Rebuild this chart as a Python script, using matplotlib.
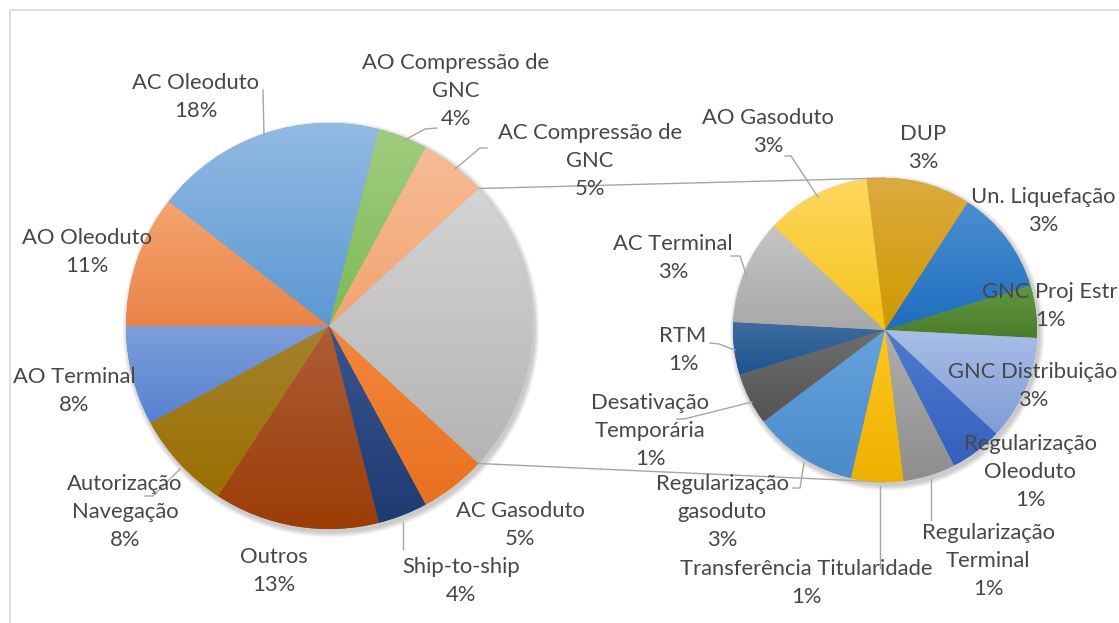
import numpy as np
import matplotlib
matplotlib.use("Agg")
import matplotlib.pyplot as plt
from matplotlib.patches import Rectangle, Circle

# ---------------- data ----------------
main_labels = ["AC Gasoduto", "Ship-to-ship", "Outros", "Autorização Navegação",
               "AO Terminal", "AO Oleoduto", "AC Oleoduto",
               "AO Compressão de GNC", "AC Compressão de GNC"]
main_values = [4, 3, 10, 6, 6, 8, 14, 3, 4]

sec_labels = ["DUP", "Un. Liquefação", "GNC Proj Estr", "GNC Distribuição",
              "Regularização Oleoduto", "Regularização Terminal",
              "Transferência Titularidade", "Regularização gasoduto",
              "Desativação Temporária", "RTM", "AC Terminal", "AO Gasoduto"]
sec_values = [2, 2, 1, 2, 1, 1, 1, 2, 1, 1, 2, 2]

# ---------------- styles ----------------
W, H = 1119, 623
TXT = "#474747"
FONT = ["Lato", "DejaVu Sans"]
FS = 15.8
LS = 1.5

other_color = ("#D4D4D4", "#B4B4B4")
main_colors = [("#F4873C", "#E8711F"), ("#385590", "#1E3B72"), ("#AE5C38", "#9C3D06"),
               ("#A6812E", "#9A7000"), ("#7E9EDA", "#5582D0"), ("#F5A46E", "#E98449"),
               ("#92BAE3", "#5C98D2"), ("#A0CD7E", "#7DB955"), ("#F7BC97", "#F2A470")]
sec_colors = [("#DCAA40", "#CF9900"), ("#4C8DD2", "#1E6EBE"), ("#629744", "#4A7D2A"),
              ("#A9BEE7", "#7E9CD6"), ("#4F7BCD", "#3461BE"), ("#AEAEAE", "#8E8E8E"),
              ("#FFC81E", "#ECB000"), ("#66A3DD", "#4A8BCB"), ("#6E6E6E", "#545454"),
              ("#3F6C9E", "#1E548F"), ("#C6C6C6", "#A8A8A8"), ("#FED75E", "#F4C419")]

wrap = {"AO Compressão de GNC": "AO Compressão de\nGNC",
        "AC Compressão de GNC": "AC Compressão de\nGNC",
        "Autorização Navegação": "Autorização\nNavegação",
        "Desativação Temporária": "Desativação\nTemporária",
        "Regularização gasoduto": "Regularização\ngasoduto",
        "Regularização Oleoduto": "Regularização\nOleoduto",
        "Regularização Terminal": "Regularização\nTerminal"}

# layout (pixel coordinates, y downward)
MAIN_C, MAIN_R = (329, 326), 203
SEC_C, SEC_R = (885, 330), 152

main_label_pos = [(520, 525), (461, 581), (274, 571), (125, 512), (74, 391),
                  (87, 252), (196, 97), (456, 91), (590, 161)]
sec_label_pos = [(923, 148), (1043, 211), (1050, 306), (1033, 386), (1030, 472),
                 (988, 561), (806, 583), (722, 512), (650, 431), (683, 350),
                 (673, 258), (768, 132)]
leaders = [
    [(263, 90), (264, 136)],
    [(437, 128), (425, 129), (403, 141)],
    [(487, 148), (480, 148), (455, 169)],
    [(403, 522), (403, 549)],
    [(180, 469), (153, 496), (145, 496)],
    [(785, 156), (791, 156), (818, 197)],
    [(731, 256), (740, 256), (747, 277)],
    [(710, 343), (719, 344), (735, 350)],
    [(677, 419), (684, 419), (752, 402)],
    [(793, 488), (800, 488), (804, 463)],
    [(880, 486), (880, 568)],
    [(931, 479), (931, 520)],
]


def P(x, y):
    return (x, H - y)


fig = plt.figure(figsize=(W / 100, H / 100), dpi=100)
ax = fig.add_axes([0, 0, 1, 1])


def soft_shadow(center, r, dx=2, dy=3):
    cx, cy = P(*center)
    for k in range(6, 0, -1):
        ax.add_patch(Circle((cx + dx, cy - dy), r + k * 0.9, facecolor="#000000",
                            edgecolor="none", alpha=0.035, zorder=1))


def gradient_fill(wedges, colors):
    for w, (c1, c2) in zip(wedges, colors):
        ext = w.get_path().get_extents()
        a = np.array(matplotlib.colors.to_rgb(c1))
        b = np.array(matplotlib.colors.to_rgb(c2))
        t = np.linspace(0, 1, 64)[:, None]
        img = (a * (1 - t) + b * t)[:, None, :]
        im = ax.imshow(img, extent=(ext.x0, ext.x1, ext.y0, ext.y1), origin="upper",
                       aspect="auto", interpolation="bilinear", zorder=3)
        im.set_clip_path(w)
        w.set_facecolor(c2)
        w.set_edgecolor("none")


total = sum(main_values) + sum(sec_values)
other = sum(sec_values)

# connector lines
mc = P(*MAIN_C)
sc = P(*SEC_C)
half = np.deg2rad(other / total * 180.0)
for s in (1, -1):
    x0 = mc[0] + MAIN_R * np.cos(half)
    y0 = mc[1] + s * MAIN_R * np.sin(half)
    ax.plot([x0, sc[0]], [y0, sc[1] + s * SEC_R], color="#A6A6A6", lw=1.0, zorder=2)

soft_shadow(MAIN_C, MAIN_R)
soft_shadow(SEC_C, SEC_R)

w_main, _ = ax.pie([other] + main_values, center=mc, radius=MAIN_R,
                   startangle=other / total * 180.0, counterclock=False,
                   wedgeprops=dict(linewidth=0, zorder=2), frame=True)
gradient_fill(w_main, [other_color] + main_colors)

w_sec, _ = ax.pie(sec_values, center=sc, radius=SEC_R, startangle=97,
                  counterclock=False, wedgeprops=dict(linewidth=0, zorder=2), frame=True)
gradient_fill(w_sec, sec_colors)

# leader lines
for pts in leaders:
    xs, ys = zip(*[P(*p) for p in pts])
    ax.plot(xs, ys, color="#A6A6A6", lw=1.0, zorder=4)


def pct(v):
    return int(v / total * 100 + 0.5)


for name, v, pos in zip(main_labels, main_values, main_label_pos):
    ax.text(*P(*pos), f"{wrap.get(name, name)}\n{pct(v)}%", ha="center", va="center",
            fontsize=FS, color=TXT, family=FONT, linespacing=LS, zorder=6)
for name, v, pos in zip(sec_labels, sec_values, sec_label_pos):
    ax.text(*P(*pos), f"{wrap.get(name, name)}\n{pct(v)}%", ha="center", va="center",
            fontsize=FS, color=TXT, family=FONT, linespacing=LS, zorder=6)

# chart area border
ax.add_patch(Rectangle(P(9.5, 640), 1200, 630, facecolor="none",
                       edgecolor="#D9D9D9", lw=1.2, zorder=0))

ax.set_xlim(0, W)
ax.set_ylim(0, H)
ax.set_aspect("auto")
ax.axis("off")
fig.savefig("out.png", dpi=100)
